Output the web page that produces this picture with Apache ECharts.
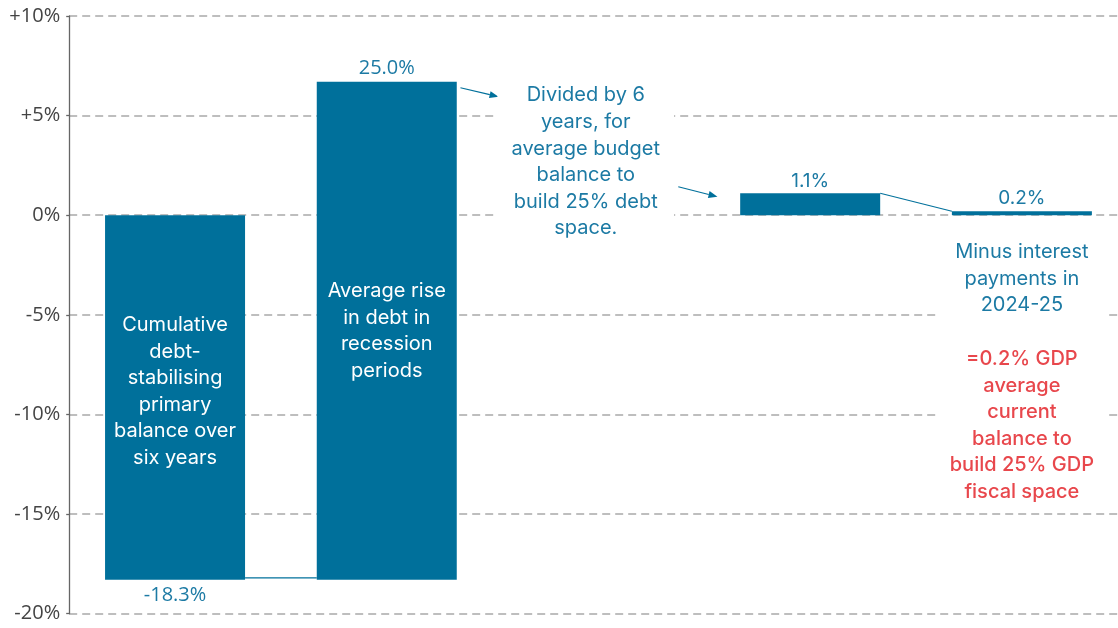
<!DOCTYPE html>
<html>
<head>
<meta charset="utf-8">
<script src="https://cdn.jsdelivr.net/npm/echarts@6/dist/echarts.min.js"></script>
<style>
  html, body { margin: 0; padding: 0; background: #fff; }
  #chart { width: 1118px; height: 628px; }
</style>
</head>
<body>
<div id="chart"></div>
<script>
// Steps of the fiscal-space calculation (% of GDP); slot 2 holds the note only
const categories = ['Debt-stabilising balance', 'Recession rise', 'Per year', 'Budget balance', 'Current balance'];
const barStarts = [0, -18.3, null, 0, 0];
const barChanges = [-18.3, 25.0, null, 1.1, 0.2];
const barNotes = [
  'Cumulative\ndebt-\nstabilising\nprimary\nbalance over\nsix years',
  'Average rise\nin debt in\nrecession\nperiods',
  '', '', ''
];
const yTicks = { min: -20, max: 10, step: 5 };
const xSpan = { min: -0.5, max: 4.454 };

// Free-standing annotation texts
const noteDivided = 'Divided by 6\nyears, for\naverage budget\nbalance to\nbuild 25% debt\nspace.';
const noteInterest = 'Minus interest\npayments in\n2024-25';
const noteResult = '=0.2% GDP\naverage\ncurrent\nbalance to\nbuild 25% GDP\nfiscal space';

const BAR = '#00709b';
const TEXT_BLUE = '#1c7aa4';
const RED = '#e8474c';
const NOTE_FONT = 'Inter, Roboto, sans-serif';
const AXIS_FONT = '"Open Sans", sans-serif';
const BAR_WIDTH = 140;

const chart = echarts.init(document.getElementById('chart'), null, { renderer: 'canvas' });

const barEnd = i => barStarts[i] + barChanges[i];
const fmt = v => (v < 0 ? '-' : '') + Math.abs(v).toFixed(1) + '%';

// Floating waterfall bars: each runs from its start to start + change
function renderBar(params, api) {
  const i = api.value(0);
  const start = api.value(1);
  const end = start + api.value(2);
  const top = api.coord([i, Math.max(start, end)]);
  const bottom = api.coord([i, Math.min(start, end)]);
  const x = top[0] - BAR_WIDTH / 2;
  const children = [{
    type: 'rect',
    shape: { x: x, y: top[1], width: BAR_WIDTH, height: bottom[1] - top[1] },
    style: { fill: BAR }
  }];
  const txt = barNotes[i];
  if (txt) {
    children.push({
      type: 'text',
      style: {
        x: top[0], y: (top[1] + bottom[1]) / 2 + (i === 0 ? -6 : 0),
        text: txt, fill: '#fff', font: '20px ' + NOTE_FONT,
        lineHeight: 26.6, align: 'center', verticalAlign: 'middle'
      }
    });
  }
  return { type: 'group', children: children };
}

// Value labels, connectors, arrows and notes, all placed through the axes
function renderAnnotations(params, api) {
  const band = api.size([1, 0])[0];
  const half = BAR_WIDTH / 2;
  const kids = [];
  const pt = (i, v, dx) => { const p = api.coord([i, v]); return [p[0] + (dx || 0) * band, p[1]]; };

  // value labels
  barChanges.forEach((c, i) => {
    if (c == null) return;
    const p = api.coord([i, barEnd(i)]);
    const neg = c < 0;
    kids.push({
      type: 'text',
      style: {
        x: p[0], y: neg ? p[1] + 5 : p[1] - 3,
        text: fmt(c),
        fill: TEXT_BLUE,
        font: (i >= 3 ? '19px ' + NOTE_FONT : '20px ' + AXIS_FONT),
        align: 'center',
        verticalAlign: neg ? 'top' : 'bottom'
      }
    });
  });

  // connector: bottom of bar 0 to start of bar 1
  const c0 = api.coord([0, barEnd(0)]);
  const c1 = api.coord([1, barStarts[1]]);
  kids.push({ type: 'line', shape: { x1: c0[0] + half, y1: c0[1] - 2, x2: c1[0] - half, y2: c1[1] - 2 },
    style: { stroke: BAR, lineWidth: 1.2 } });

  // connector: top of bar 3 to top of bar 4
  const c3 = api.coord([3, barEnd(3)]);
  const c4 = api.coord([4, barEnd(4)]);
  kids.push({ type: 'line', shape: { x1: c3[0] + half, y1: c3[1], x2: c4[0] - half, y2: c4[1] },
    style: { stroke: BAR, lineWidth: 1.1 } });

  // arrows pointing into and out of the "divided by 6" note
  const arrows = [
    [pt(1, 6.40, 0.348), pt(1, 5.95, 0.528)],
    [pt(2, 1.43, 0.377), pt(2, 0.93, 0.562)]
  ];
  arrows.forEach(([a, b]) => {
    const ang = Math.atan2(b[1] - a[1], b[0] - a[0]);
    const L = 9, W = 3.5;
    const bx = b[0] - L * Math.cos(ang), by = b[1] - L * Math.sin(ang);
    kids.push({ type: 'line', shape: { x1: a[0], y1: a[1], x2: bx, y2: by },
      style: { stroke: BAR, lineWidth: 1.2 } });
    kids.push({ type: 'polygon', shape: { points: [
      [b[0], b[1]],
      [bx + W * Math.sin(ang), by - W * Math.cos(ang)],
      [bx - W * Math.sin(ang), by + W * Math.cos(ang)]
    ] }, style: { fill: BAR } });
  });

  // notes on white boxes that interrupt the grid lines
  const note = (p, text, color, weight, padX) => ({
    type: 'text',
    style: {
      x: p[0], y: p[1], text: text, fill: color,
      font: (weight || 400) + ' 20px ' + NOTE_FONT,
      lineHeight: 26.6, align: 'center', verticalAlign: 'middle',
      backgroundColor: '#fff', padding: [6, padX, 6, padX]
    }
  });
  kids.push(note(pt(2, 2.68, -0.06), noteDivided, TEXT_BLUE, 400, 14));
  kids.push(note(pt(4, -3.18, 0), noteInterest, TEXT_BLUE, 400, 18));
  kids.push(note(pt(4, -10.55, 0), noteResult, RED, 500, 12));

  return { type: 'group', children: kids };
}

const barData = barChanges
  .map((c, i) => [i, barStarts[i], c])
  .filter(d => d[2] != null);

chart.setOption({
  animation: false,
  grid: { left: 69.2, top: 16, bottom: 14.3, right: 0, containLabel: false },
  xAxis: {
    type: 'value',
    min: xSpan.min, max: xSpan.max,
    axisLine: { show: false },
    axisTick: { show: false },
    axisLabel: { show: false },
    splitLine: { show: false }
  },
  yAxis: {
    type: 'value',
    min: yTicks.min, max: yTicks.max, interval: yTicks.step,
    axisLine: { show: true, onZero: false, lineStyle: { color: '#666', width: 1.3 } },
    axisTick: { show: true, length: 3, lineStyle: { color: '#666', width: 1.3 } },
    axisLabel: {
      margin: 9, fontFamily: AXIS_FONT, fontSize: 20, color: '#444',
      formatter: v => (v > 0 ? '+' : '') + v + '%'
    },
    splitLine: { show: true, lineStyle: { color: '#a9a9a9', width: 1.6, type: [8, 5] } }
  },
  series: [
    {
      type: 'custom', name: 'steps', silent: true, z: 3,
      encode: { x: 0, y: [1, 2] },
      data: barData,
      renderItem: renderBar
    },
    {
      type: 'custom', name: 'annotations', silent: true, z: 5,
      data: [[0, 0]],
      renderItem: renderAnnotations
    }
  ]
});
</script>
</body>
</html>
